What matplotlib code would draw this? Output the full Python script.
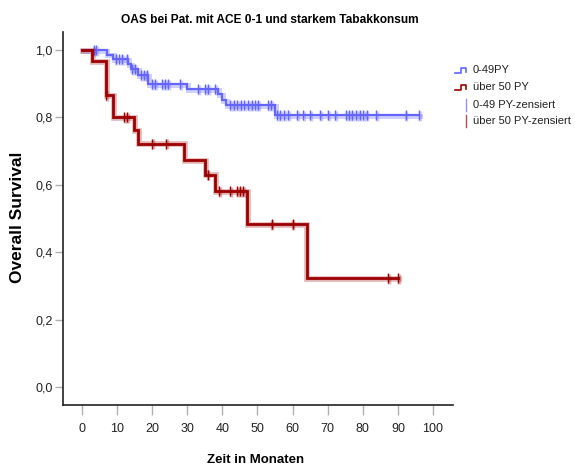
import numpy as np
import matplotlib
matplotlib.use("Agg")
import matplotlib.pyplot as plt
import matplotlib.transforms as mtransforms
from matplotlib.ticker import FuncFormatter

plt.rcParams["font.family"] = ["Liberation Sans", "DejaVu Sans"]

# Kaplan-Meier steps: 0-49 pack years
blue_times = [0, 7.0, 8.9, 13.2, 13.9, 16.0, 18.9, 29.9, 38.8, 40.0, 41.0, 55.0]
blue_surv = [1.0, 0.986, 0.972, 0.957, 0.942, 0.926, 0.898, 0.883, 0.868, 0.852, 0.837, 0.807]
blue_cens = [3.3, 4.0, 9.6, 10.5, 11.5, 12.7, 14.2, 15.1, 16.8, 17.7, 18.4,
             19.9, 20.8, 22.9, 23.6, 24.6, 28.0, 33.1, 35.0, 36.0, 38.0,
             42.2, 43.2, 44.2, 45.2, 46.2, 47.3, 48.3, 49.3, 50.1, 53.0, 53.8,
             55.5, 56.4, 57.6, 58.8, 61.2, 63.1, 65.0, 67.9, 70.0, 72.0,
             75.2, 76.0, 76.9, 78.1, 79.1, 80.2, 81.1, 83.9, 92.2, 96.0]

# Kaplan-Meier steps: over 50 pack years
red_times = [0, 2.9, 6.8, 8.8, 14.9, 15.9, 29.1, 35.0, 38.0, 47.0, 64.0]
red_surv = [1.0, 0.967, 0.867, 0.800, 0.762, 0.722, 0.674, 0.630, 0.581, 0.484, 0.323]
red_cens = [6.9, 12.0, 12.9, 20.0, 23.9, 35.8, 39.0, 42.1, 44.1, 45.0, 46.0,
            54.0, 60.0, 87.1, 90.1]

x_ticks = list(range(0, 101, 10))
y_ticks = [0.0, 0.2, 0.4, 0.6, 0.8, 1.0]

blue = "#6464ff"
red = "#9c0000"


def surv_at(times, surv, t):
    i = np.searchsorted(times, t, side="right") - 1
    return surv[i]


fig = plt.figure(figsize=(5.75, 4.68), dpi=100)
ax = fig.add_axes([63 / 575, 1 - 405 / 468, 390 / 575, 373 / 468])

shadow = mtransforms.offset_copy(ax.transData, fig=fig, x=0.6, y=-0.6, units="points")

for times, surv, cens, col, lw in [
    (blue_times, blue_surv, blue_cens, blue, 1.6),
    (red_times, red_surv, red_cens, red, 2.0),
]:
    t_end = max(max(cens), times[-1])
    xs = list(times) + [t_end]
    ys = list(surv) + [surv[-1]]
    ax.step(xs, ys, where="post", color=col, lw=lw + 2.0, alpha=0.3,
            transform=shadow, solid_joinstyle="miter")
    ax.step(xs, ys, where="post", color=col, lw=lw, solid_joinstyle="miter")
    cy = [surv_at(times, surv, t) for t in cens]
    ax.plot(cens, cy, ls="none", marker="|", ms=7, mew=2.5, color=col,
            alpha=0.3, transform=shadow)
    ax.plot(cens, cy, ls="none", marker="|", ms=7, mew=1.0, color=col)

ax.set_xlim(-5.4, 105.7)
ax.set_ylim(-0.053, 1.053)
ax.set_xticks(x_ticks)
ax.set_yticks(y_ticks)
ax.yaxis.set_major_formatter(FuncFormatter(lambda v, p: f"{v:.1f}".replace(".", ",")))

for s in ["top", "right"]:
    ax.spines[s].set_visible(False)
for s in ["left", "bottom"]:
    ax.spines[s].set_linewidth(1.2)
    ax.spines[s].set_color("#222222")

ax.tick_params(axis="x", length=7, width=1, color="#b0b0b0", pad=6,
               labelsize=9, labelcolor="#222222")
ax.tick_params(axis="y", length=5.5, width=1, color="#b0b0b0", pad=2,
               labelsize=9, labelcolor="#222222")

fig.text(256 / 575, 1 - 460 / 468, "Zeit in Monaten", ha="center", va="center",
         fontsize=9.5, fontweight="bold")
fig.text(18 / 575, 1 - 217 / 468, "Overall Survival", ha="center", va="center",
         rotation=90, fontsize=12.5, fontweight="bold")
fig.text(270 / 575, 1 - 20 / 468, "OAS bei Pat. mit ACE 0-1 und starkem Tabakkonsum",
         ha="center", va="center", fontsize=8.6, fontweight="bold")

# legend drawn in pixel space
lg = fig.add_axes([0, 0, 1, 1])
lg.set_xlim(0, 575)
lg.set_ylim(468, 0)
lg.axis("off")
for yc, col in [(70, blue), (87, red)]:
    lg.plot([455, 461, 461, 466, 466], [yc + 2.5, yc + 2.5, yc - 2, yc - 2, yc + 2],
            color=col, lw=1.2)
for yc, col in [(105, blue), (121, red)]:
    lg.plot([466, 466], [yc - 6, yc + 6], color=col, lw=1.0, alpha=0.7)
for yc, txt in [(70, "0-49PY"), (87, "über 50 PY"),
                (105, "0-49 PY-zensiert"), (121, "über 50 PY-zensiert")]:
    lg.text(473, yc, txt, ha="left", va="center", fontsize=8, color="#222222")

fig.savefig("out.png", dpi=100)
